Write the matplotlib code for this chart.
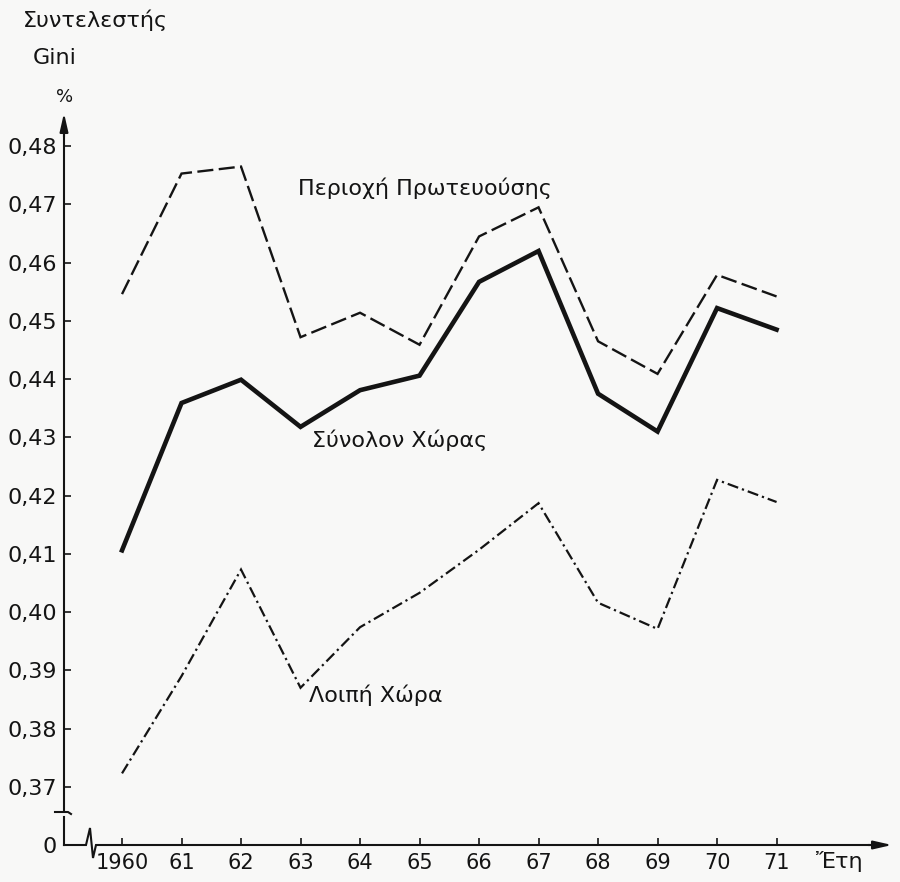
import matplotlib
matplotlib.use("Agg")
import matplotlib.pyplot as plt
from matplotlib.lines import Line2D

# Gini coefficient by year, Greece 1960-71
years = ["1960", "61", "62", "63", "64", "65", "66", "67", "68", "69", "70", "71"]
capital_region = [0.4546, 0.4753, 0.4765, 0.4472, 0.4514, 0.4459,
                  0.4645, 0.4695, 0.4465, 0.4409, 0.4579, 0.4542]
whole_country = [0.4106, 0.4359, 0.4399, 0.4318, 0.4381, 0.4406,
                 0.4567, 0.4620, 0.4375, 0.4310, 0.4522, 0.4485]
rest_of_country = [0.3723, 0.3890, 0.4073, 0.3870, 0.3974, 0.4033,
                   0.4107, 0.4187, 0.4016, 0.3971, 0.4227, 0.4189]

ytick_values = [0.37, 0.38, 0.39, 0.40, 0.41, 0.42, 0.43, 0.44, 0.45, 0.46, 0.47, 0.48]
ytick_labels = ["0,37", "0,38", "0,39", "0,40", "0,41", "0,42",
                "0,43", "0,44", "0,45", "0,46", "0,47", "0,48"]
zero_label = "0"

INK = "#141414"
PAPER = "#f8f8f7"
FONT = "DejaVu Sans"
plt.rcParams["font.family"] = [FONT]

W, H = 900, 882
fig = plt.figure(figsize=(W / 100, H / 100), dpi=100, facecolor=PAPER)
ax_w, ax_h = 892 - 64, 845 - 113
ax = fig.add_axes([64 / W, (H - 845) / H, ax_w / W, ax_h / H])
ax.set_facecolor(PAPER)

x = list(range(len(years)))
ax.set_xlim(-0.975, 12.94)
y_bottom = 0.36
ax.set_ylim(y_bottom, 0.4857)

ax.plot(x, capital_region, color=INK, lw=1.7, dashes=(6.8, 2.3),
        solid_joinstyle="miter", dash_joinstyle="miter")
ax.plot(x, whole_country, color=INK, lw=3.3, solid_joinstyle="miter")
ax.plot(x, rest_of_country, color=INK, lw=1.6,
        dashes=(5.0, 1.8, 1.0, 1.8), dash_joinstyle="miter")

# series names written next to the curves
txt = dict(color=INK, fontsize=16, family=FONT)
ax.text(2.95, 0.4728, "Περιοχή Πρωτευούσης", ha="left", va="center", **txt)
ax.text(3.2, 0.4295, "Σύνολον Χώρας", ha="left", va="center", **txt)
ax.text(3.15, 0.3857, "Λοιπή Χώρα", ha="left", va="center", **txt)

# ticks
ax.set_xticks(x)
ax.set_xticklabels(years)
ax.set_yticks([y_bottom] + ytick_values)
ax.set_yticklabels([zero_label] + ytick_labels)
ax.tick_params(axis="both", direction="in", length=5, width=1.2, colors=INK)
ax.tick_params(axis="x", pad=6, labelsize=15)
ax.tick_params(axis="y", pad=5, labelsize=16)
for s in ax.spines.values():
    s.set_visible(False)


def px(dx, dy):
    """Offset in pixels from the lower-left axis corner -> axes fraction."""
    return dx / ax_w, dy / ax_h


def seg(points, lw=1.5):
    xs, ys = zip(*[px(*p) for p in points])
    ax.add_line(Line2D(xs, ys, transform=ax.transAxes, color=INK, lw=lw,
                       clip_on=False, solid_joinstyle="miter"))


# vertical axis with a break just above zero
seg([(0, 0), (0, 28)])
seg([(-9, 33), (4, 33), (7, 31)])
seg([(0, 34), (0, ax_h - 14)])
ax.annotate("", xy=px(0, ax_h), xycoords="axes fraction",
            xytext=px(0, ax_h - 24), textcoords="axes fraction",
            arrowprops=dict(arrowstyle="-|>,head_length=1.1,head_width=0.25",
                            color=INK, lw=1.5, shrinkA=0, shrinkB=0))

# horizontal axis with a break near the origin
seg([(0, 0), (22, 0), (26, 17), (29, -13), (32, 0), (ax_w - 14, 0)])
ax.annotate("", xy=px(ax_w, 0), xycoords="axes fraction",
            xytext=px(ax_w - 24, 0), textcoords="axes fraction",
            arrowprops=dict(arrowstyle="-|>,head_length=1.1,head_width=0.25",
                            color=INK, lw=1.5, shrinkA=0, shrinkB=0))

# axis titles
fig.text(95 / W, 1 - 20 / H, "Συντελεστής", ha="center", va="center",
         color=INK, fontsize=16)
fig.text(55 / W, 1 - 58 / H, "Gini", ha="center", va="center",
         color=INK, fontsize=16)
fig.text(65 / W, 1 - 97 / H, "%", ha="center", va="center",
         color=INK, fontsize=13)
fig.text(840 / W, 1 - 861 / H, "Ἔτη", ha="center", va="center",
         color=INK, fontsize=16)

fig.savefig("out.png", dpi=100, facecolor=PAPER)
